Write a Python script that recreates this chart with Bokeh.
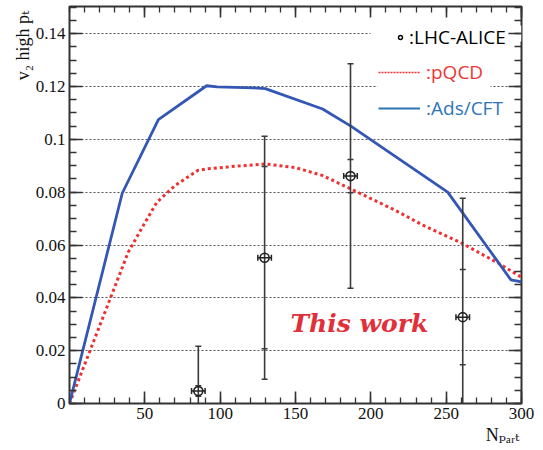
import numpy as np
from bokeh.plotting import figure
from bokeh.models import (ColumnDataSource, FixedTicker, LinearAxis, Legend, LegendItem,
                          Label, BoxAnnotation, Range1d, Grid, CustomJSTickFormatter, Title)
from bokeh.embed import file_html
from bokeh.resources import INLINE

# ---------------- data ----------------
ads_npart = [0, 35, 59, 91, 98, 122, 130, 168, 187, 251, 293, 300]
ads_v2 = [0, 0.0796, 0.1075, 0.1203, 0.1199, 0.1195, 0.1192, 0.1115, 0.1049, 0.0800, 0.0468, 0.0460]

pqcd_npart = [0, 39, 49, 58, 70, 85, 92, 110, 130, 150, 168, 189, 215, 235, 261, 285, 300]
pqcd_v2 = [0, 0.0573, 0.0674, 0.0762, 0.0825, 0.0882, 0.0889, 0.0898, 0.0907, 0.0893,
           0.0863, 0.0806, 0.0735, 0.0674, 0.0605, 0.0530, 0.0478]

alice_npart = [85.5, 129.5, 186.5, 261.0]
alice_v2 = [0.0047, 0.0552, 0.0861, 0.0327]
alice_err_sys = [0.017, 0.046, 0.0425, 0.045]
alice_err_stat = [0.002, 0.0345, 0.0063, 0.018]
alice_err_npart = [4.5, 4.5, 4.5, 4.5]

x_major_ticks = [50, 100, 150, 200, 250, 300]
x_minor_ticks = list(range(0, 301, 10))
y_major_ticks = [0, 0.02, 0.04, 0.06, 0.08, 0.1, 0.12, 0.14]
y_tick_labels = ["0", "0.02", "0.04", "0.06", "0.08", "0.1", "0.12", "0.14"]
y_minor_ticks = [round(0.005 * i, 3) for i in range(31)]

legend_labels = [":LHC-ALICE", ":pQCD", ":Ads/CFT"]
x_title = "N\u209a\u2090\u1d63\u209c"
y_title = "v\u2082 high p\u209c"

# ---------------- styles ----------------
BLUE = "#3457B5"
RED = "#F03030"
FRAME = "#333333"
ERR = "#3a3a3a"
SERIF = "Liberation Serif, Times New Roman, DejaVu Serif, serif"
SANS = "Open Sans, Noto Sans, sans-serif"

p = figure(width=540, height=450,
           x_range=Range1d(0, 300), y_range=Range1d(0, 0.1503),
           output_backend="svg", toolbar_location=None,
           x_axis_type=None, y_axis_type=None,
           min_border_left=69, min_border_right=19, min_border_top=6, min_border_bottom=47)
p.background_fill_color = "white"
p.border_fill_color = "white"
p.outline_line_color = FRAME
p.outline_line_width = 2

xticker = FixedTicker(ticks=x_major_ticks, minor_ticks=x_minor_ticks)
yticker = FixedTicker(ticks=y_major_ticks, minor_ticks=y_minor_ticks)


def style_axis(ax, major_len, minor_len):
    ax.major_tick_in = major_len
    ax.major_tick_out = 0
    ax.minor_tick_in = minor_len
    ax.minor_tick_out = 0
    ax.axis_line_color = None
    ax.major_tick_line_color = FRAME
    ax.minor_tick_line_color = FRAME
    ax.major_tick_line_width = 1.6
    ax.minor_tick_line_width = 1.3


blank = CustomJSTickFormatter(code="return ''")

xb = LinearAxis(ticker=xticker)
style_axis(xb, 12, 6)
xb.major_label_text_font = SERIF
xb.major_label_text_font_size = "17px"
xb.major_label_text_color = "#111111"
xb.major_label_standoff = 4
p.add_layout(xb, "below")

yl = LinearAxis(ticker=yticker)
style_axis(yl, 13, 7)
yl.major_label_text_font = SERIF
yl.major_label_text_font_size = "17px"
yl.major_label_text_color = "#111111"
yl.major_label_standoff = 4
yl.major_label_overrides = {t: s for t, s in zip(y_major_ticks, y_tick_labels)}
p.add_layout(yl, "left")

xt = LinearAxis(ticker=xticker, formatter=blank)
style_axis(xt, 11, 6)
xt.major_label_standoff = 0
xt.major_label_text_font_size = "0px"
p.add_layout(xt, "above")

yr = LinearAxis(ticker=yticker, formatter=blank)
style_axis(yr, 13, 7)
yr.major_label_standoff = 0
yr.major_label_text_font_size = "0px"
p.add_layout(yr, "right")

# axis titles, ROOT style (at the far end of each axis)
p.add_layout(Title(text=y_title, align="right", offset=4, standoff=0,
                   text_font=SERIF, text_font_style="normal", text_font_size="18px",
                   text_color="#111111"), "left")
p.add_layout(Title(text=x_title, align="right", offset=2, standoff=3,
                   text_font=SERIF, text_font_style="normal", text_font_size="18px",
                   text_color="#111111"), "below")

grid = Grid(dimension=1, ticker=yticker, grid_line_color="#555555",
            grid_line_dash="2 2", grid_line_width=1)
p.add_layout(grid)

# white masks behind the legend area (gridlines hidden there)
p.add_layout(BoxAnnotation(left=301, right=452, bottom=362, top=378,
                           left_units="screen", right_units="screen",
                           top_units="screen", bottom_units="screen",
                           fill_color="white", fill_alpha=1, line_color=None, level="underlay"))
p.add_layout(BoxAnnotation(left=308, right=421, bottom=311, top=325,
                           left_units="screen", right_units="screen",
                           top_units="screen", bottom_units="screen",
                           fill_color="white", fill_alpha=1, line_color=None, level="underlay"))

# ---------------- curves ----------------
p.line(pqcd_npart, pqcd_v2, line_color=RED, line_width=3, line_dash="3 3")
p.line(ads_npart, ads_v2, line_color=BLUE, line_width=2.8)

# ---------------- ALICE points ----------------
a = np.array(alice_npart)
v = np.array(alice_v2)
es = np.array(alice_err_sys)
et = np.array(alice_err_stat)
ex = np.array(alice_err_npart)
src = ColumnDataSource(dict(
    x=a, y=v, sys_lo=v - es, sys_hi=v + es, st_lo=v - et, st_hi=v + et,
    x_lo=a - ex, x_hi=a + ex))
p.segment(x0="x", y0="sys_lo", x1="x", y1="sys_hi", source=src, line_color=ERR, line_width=1.6)
for col in ("sys_lo", "sys_hi", "st_lo", "st_hi"):
    p.scatter(x="x", y=col, source=src, marker="dash", size=6, line_color=ERR, line_width=1.5)
p.segment(x0="x_lo", y0="y", x1="x_hi", y1="y", source=src, line_color="#222222", line_width=1.5)
for col in ("x_lo", "x_hi"):
    p.scatter(x=col, y="y", source=src, marker="dash", angle=np.pi / 2, size=6,
              line_color="#222222", line_width=1.5)
p.scatter(x="x", y="y", source=src, marker="circle", size=9, fill_color=None,
          line_color="#222222", line_width=1.6)

# ---------------- legend (three separately coloured entries) ----------------
dummy = ColumnDataSource(dict(x=[np.nan], y=[np.nan]))
r_alice = p.scatter(x="x", y="y", source=dummy, marker="circle", size=7, fill_color=None,
                    line_color="black", line_width=1.4)
r_pqcd = p.line(x="x", y="y", source=dummy, line_color=RED, line_width=1.5, line_dash="2 1")
r_ads = p.line(x="x", y="y", source=dummy, line_color="#2E75B6", line_width=2)

legend_specs = [
    (legend_labels[0], r_alice, "black", (326, 353), 10, 4),
    (legend_labels[1], r_pqcd, "#EE3636", (309, 318), 42, 6),
    (legend_labels[2], r_ads, "#2E75B6", (309, 282), 42, 6),
]
for lab, rend, col, loc, gw, so in legend_specs:
    lg = Legend(items=[LegendItem(label=lab, renderers=[rend])], location=loc,
                padding=0, margin=0, spacing=0, glyph_width=gw, glyph_height=20,
                label_standoff=so, label_height=20,
                label_text_font=SANS, label_text_font_size="19px",
                label_text_color=col, background_fill_alpha=0, border_line_color=None)
    p.add_layout(lg)

# ---------------- texts ----------------
p.add_layout(Label(x=221, y=66, x_units="screen", y_units="screen", text="This work",
                   text_font="DejaVu Serif", text_font_style="bold italic",
                   text_font_size="25px", text_color="#E0303A"))

open("out.html", "w").write(file_html(p, INLINE))
